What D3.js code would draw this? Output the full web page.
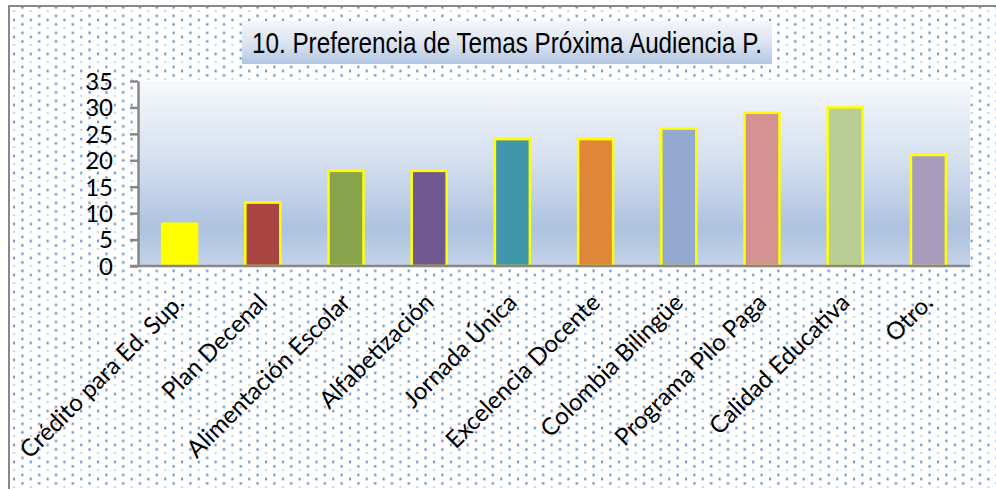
<!DOCTYPE html>
<html>
<head>
<meta charset="utf-8">
<script src="https://cdnjs.cloudflare.com/ajax/libs/d3/7.8.5/d3.min.js"></script>
<style>
  body { margin: 0; background: #fff; }
  svg { display: block; }
</style>
</head>
<body>
<div id="chart"></div>
<script>
// chart data
var categories = ["Crédito para Ed. Sup.", "Plan Decenal", "Alimentación Escolar", "Alfabetización",
                  "Jornada Única", "Excelencia Docente", "Colombia Bilingüe", "Programa Pilo Paga",
                  "Calidad Educativa", "Otro."];
var values = [8, 12, 18, 18, 24, 24, 26, 29, 30, 21];
var yTicks = [0, 5, 10, 15, 20, 25, 30, 35];
var barColors = ["#ffff00", "#a94543", "#88a44a", "#71578f", "#4097ab",
                 "#e08639", "#93a9cf", "#d49291", "#b9cd96", "#a99bbd"];
var title = "10. Preferencia de Temas Próxima Audiencia P.";

var W = 996, H = 489;
var plot = {left: 138, top: 81, right: 970, bottom: 266};

var svg = d3.select("#chart").append("svg")
    .attr("width", W)
    .attr("height", H);

var defs = svg.append("defs");

// dotted background pattern
var pat = defs.append("pattern")
    .attr("id", "dots")
    .attr("patternUnits", "userSpaceOnUse")
    .attr("x", 13).attr("y", 10.5)
    .attr("width", 16.8).attr("height", 17);
pat.append("rect").attr("x", 0).attr("y", 0).attr("width", 2.2).attr("height", 1).attr("fill", "#8fb0da");
[[0, 8.5], [8.4, 4.4], [8.4, 12.9]].forEach(function(p) {
  pat.append("rect").attr("x", p[0] - 0.5).attr("y", p[1] - 0.5).attr("width", 3).attr("height", 3).attr("fill", "#e2eaf6");
  pat.append("rect").attr("x", p[0]).attr("y", p[1]).attr("width", 2).attr("height", 2).attr("fill", "#4f80c2");
});

var plotGrad = defs.append("linearGradient").attr("id", "plotGrad")
    .attr("x1", 0).attr("y1", 0).attr("x2", 0).attr("y2", 1);
plotGrad.append("stop").attr("offset", "0%").attr("stop-color", "#f6f8fc");
plotGrad.append("stop").attr("offset", "45%").attr("stop-color", "#d3deee");
plotGrad.append("stop").attr("offset", "80%").attr("stop-color", "#adc2df");
plotGrad.append("stop").attr("offset", "100%").attr("stop-color", "#c4d3e8");

var titleGrad = defs.append("linearGradient").attr("id", "titleGrad")
    .attr("x1", 0).attr("y1", 0).attr("x2", 0).attr("y2", 1);
titleGrad.append("stop").attr("offset", "0%").attr("stop-color", "#f4f6fa");
titleGrad.append("stop").attr("offset", "55%").attr("stop-color", "#d9e2ef");
titleGrad.append("stop").attr("offset", "100%").attr("stop-color", "#b2c6e2");

// chart area
svg.append("rect")
    .attr("x", 9).attr("y", 6)
    .attr("width", 1000).attr("height", 500)
    .attr("fill", "url(#dots)")
    .attr("stroke", "#898989")
    .attr("stroke-width", 2);

// title box
svg.append("rect")
    .attr("x", 242).attr("y", 21)
    .attr("width", 530).attr("height", 43)
    .attr("fill", "url(#titleGrad)");
svg.append("text")
    .attr("x", 252).attr("y", 53)
    .attr("font-family", "'Liberation Sans', Arial, sans-serif")
    .attr("font-size", 30)
    .attr("textLength", 510)
    .attr("lengthAdjust", "spacingAndGlyphs")
    .attr("fill", "#000")
    .text(title);

// plot area
svg.append("rect")
    .attr("x", plot.left).attr("y", plot.top)
    .attr("width", plot.right - plot.left).attr("height", plot.bottom - plot.top)
    .attr("fill", "url(#plotGrad)");

var x = d3.scaleBand()
    .domain(categories)
    .range([plot.left, plot.right])
    .paddingInner(0.58)
    .paddingOuter(0.29);

var y = d3.scaleLinear()
    .domain([0, 35])
    .range([plot.bottom, plot.top]);

// bars
svg.append("g").selectAll("rect")
    .data(values)
    .enter()
    .append("rect")
    .attr("x", function(d, i) { return x(categories[i]); })
    .attr("y", function(d) { return y(d); })
    .attr("width", x.bandwidth())
    .attr("height", function(d) { return y(0) - y(d); })
    .attr("fill", function(d, i) { return barColors[i]; })
    .attr("stroke", "#ffff00")
    .attr("stroke-width", 2.5);

// Y axis
var yAxis = svg.append("g")
    .attr("transform", "translate(" + plot.left + ",0)")
    .call(d3.axisLeft(y).tickValues(yTicks).tickSize(8).tickSizeOuter(0).tickPadding(17));
yAxis.select(".domain").attr("stroke", "#878787").attr("stroke-width", 2.5);
yAxis.selectAll(".tick line").attr("stroke", "#878787").attr("stroke-width", 2.5);
yAxis.selectAll(".tick text")
    .attr("font-family", "Lato, sans-serif")
    .attr("font-size", 24)
    .attr("fill", "#000")
    .attr("dy", "0.35em");

// X axis line
svg.append("line")
    .attr("x1", plot.left - 8).attr("x2", plot.right)
    .attr("y1", y(0)).attr("y2", y(0))
    .attr("stroke", "#878787").attr("stroke-width", 2.5);

// X labels, rotated
svg.append("g").selectAll("text")
    .data(categories)
    .enter()
    .append("text")
    .attr("transform", function(d) {
      return "translate(" + (x(d) + x.bandwidth() / 2 + 6) + ",304) rotate(-45)";
    })
    .attr("text-anchor", "end")
    .attr("font-family", "Lato, sans-serif")
    .attr("font-size", 24)
    .attr("fill", "#000")
    .text(function(d) { return d; });
</script>
</body>
</html>
